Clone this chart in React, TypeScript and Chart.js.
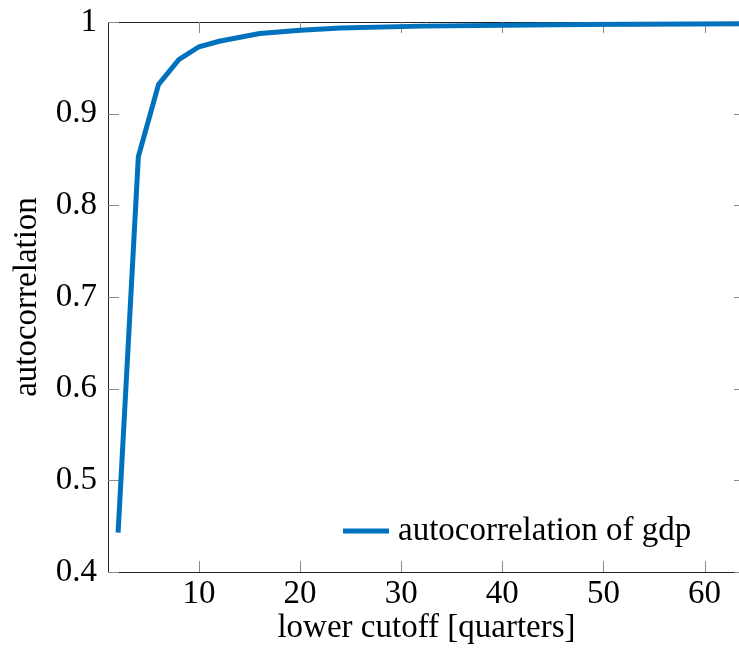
import { useEffect, useRef } from "react";
import { Chart, registerables } from "chart.js";

Chart.register(...registerables);

// lower cutoff (quarters) and the matching autocorrelation of gdp
const cutoffs = [2, 4, 6, 8, 10, 12, 16, 20, 24, 32, 48, 64];
const gdpAutocorr = [0.443, 0.853, 0.932, 0.959, 0.973, 0.979, 0.9875, 0.991, 0.9935, 0.9955, 0.9972, 0.998];

const xTicks = [10, 20, 30, 40, 50, 60];
const yTicks = [0.4, 0.5, 0.6, 0.7, 0.8, 0.9, 1];

const seriesLabel = "autocorrelation of gdp";
const xTitle = "lower cutoff [quarters]";
const yTitle = "autocorrelation";

const FONT_FAMILY = "'Liberation Serif', 'DejaVu Serif', serif";
const FONT_SIZE = 33;
const LINE_COLOR = "#0072BD";
const TICK_COLOR = "#8a8a8a";
const AXIS_COLOR = "#222222";

// Top frame edge plus inward tick marks on all four sides
const frameTicks = {
  id: "frameTicks",
  beforeDatasetsDraw(chart: any) {
    const { ctx, chartArea, scales } = chart;
    const { left, right, top, bottom } = chartArea;
    const len = 11;
    ctx.save();
    ctx.strokeStyle = AXIS_COLOR;
    ctx.lineWidth = 1;
    ctx.beginPath();
    ctx.moveTo(left, Math.round(top) + 0.5);
    ctx.lineTo(right, Math.round(top) + 0.5);
    ctx.stroke();

    ctx.strokeStyle = TICK_COLOR;
    ctx.beginPath();
    for (const v of xTicks) {
      const px = Math.round(scales.x.getPixelForValue(v)) + 0.5;
      ctx.moveTo(px, bottom);
      ctx.lineTo(px, bottom - len);
      ctx.moveTo(px, top);
      ctx.lineTo(px, top + len);
    }
    for (const v of yTicks) {
      const py = Math.round(scales.y.getPixelForValue(v)) + 0.5;
      ctx.moveTo(left, py);
      ctx.lineTo(left + len, py);
      ctx.moveTo(right, py);
      ctx.lineTo(right - len, py);
    }
    ctx.stroke();
    ctx.restore();
  },
};

// Legend in the lower-right corner of the plot area, without a box
const cornerLegend = {
  id: "cornerLegend",
  afterDatasetsDraw(chart: any) {
    const { ctx, chartArea } = chart;
    const ds = chart.data.datasets[0];
    const y = chartArea.bottom - 41;
    const x0 = chartArea.left + 235;
    ctx.save();
    ctx.strokeStyle = ds.borderColor;
    ctx.lineWidth = ds.borderWidth;
    ctx.beginPath();
    ctx.moveTo(x0, y);
    ctx.lineTo(x0 + 46, y);
    ctx.stroke();
    ctx.font = `${FONT_SIZE}px ${FONT_FAMILY}`;
    ctx.fillStyle = "#000";
    ctx.textAlign = "left";
    ctx.textBaseline = "alphabetic";
    ctx.fillText(ds.label, x0 + 55, y + 9);
    ctx.restore();
  },
};

export default function App() {
  const canvasRef = useRef<HTMLCanvasElement | null>(null);

  useEffect(() => {
    const canvas = canvasRef.current;
    if (!canvas) return;
    const font = { family: FONT_FAMILY, size: FONT_SIZE };
    const chart = new Chart(canvas, {
      type: "line",
      data: {
        datasets: [
          {
            label: seriesLabel,
            data: cutoffs.map((c, i) => ({ x: c, y: gdpAutocorr[i] })),
            borderColor: LINE_COLOR,
            backgroundColor: LINE_COLOR,
            borderWidth: 5,
            pointRadius: 0,
            tension: 0,
            fill: false,
            clip: 6,
          },
        ],
      },
      options: {
        animation: false,
        responsive: false,
        devicePixelRatio: 1,
        layout: { padding: { top: 22, right: 15, left: 0, bottom: 0 } },
        plugins: {
          legend: { display: false },
          tooltip: { enabled: false },
        },
        scales: {
          x: {
            type: "linear",
            min: 1,
            max: 64,
            grid: { display: false, drawTicks: false },
            border: { display: true, color: AXIS_COLOR, width: 1 },
            afterBuildTicks: (scale: any) => {
              scale.ticks = xTicks.map((v) => ({ value: v }));
            },
            afterFit: (scale: any) => {
              scale.height = 90;
              scale.paddingLeft = 0;
              scale.paddingRight = 0;
            },
            ticks: {
              font,
              color: "#000",
              padding: 3,
              maxRotation: 0,
              autoSkip: false,
              callback: (v: any) => String(v),
            },
            title: {
              display: true,
              text: xTitle,
              font,
              color: "#000",
              padding: { top: 0, bottom: 14 },
            },
          },
          y: {
            type: "linear",
            min: 0.4,
            max: 1,
            grid: { display: false, drawTicks: false },
            border: { display: true, color: AXIS_COLOR, width: 1 },
            afterBuildTicks: (scale: any) => {
              scale.ticks = yTicks.map((v) => ({ value: v }));
            },
            afterFit: (scale: any) => {
              scale.width = 108;
              scale.paddingTop = 0;
              scale.paddingBottom = 0;
            },
            ticks: {
              font,
              color: "#000",
              padding: 11,
              autoSkip: false,
              callback: (v: any) => String(Number(Number(v).toFixed(1))),
            },
            title: {
              display: true,
              text: yTitle,
              font,
              color: "#000",
              padding: { top: 8, bottom: 0 },
            },
          },
        },
      },
      plugins: [frameTicks, cornerLegend],
    });
    return () => chart.destroy();
  }, []);

  return (
    <div
      style={{
        position: "fixed",
        left: 0,
        top: 0,
        width: 739,
        height: 662,
        overflow: "hidden",
        background: "#fff",
      }}
    >
      <canvas ref={canvasRef} width={760} height={662} style={{ display: "block", width: 760, height: 662 }} />
    </div>
  );
}
